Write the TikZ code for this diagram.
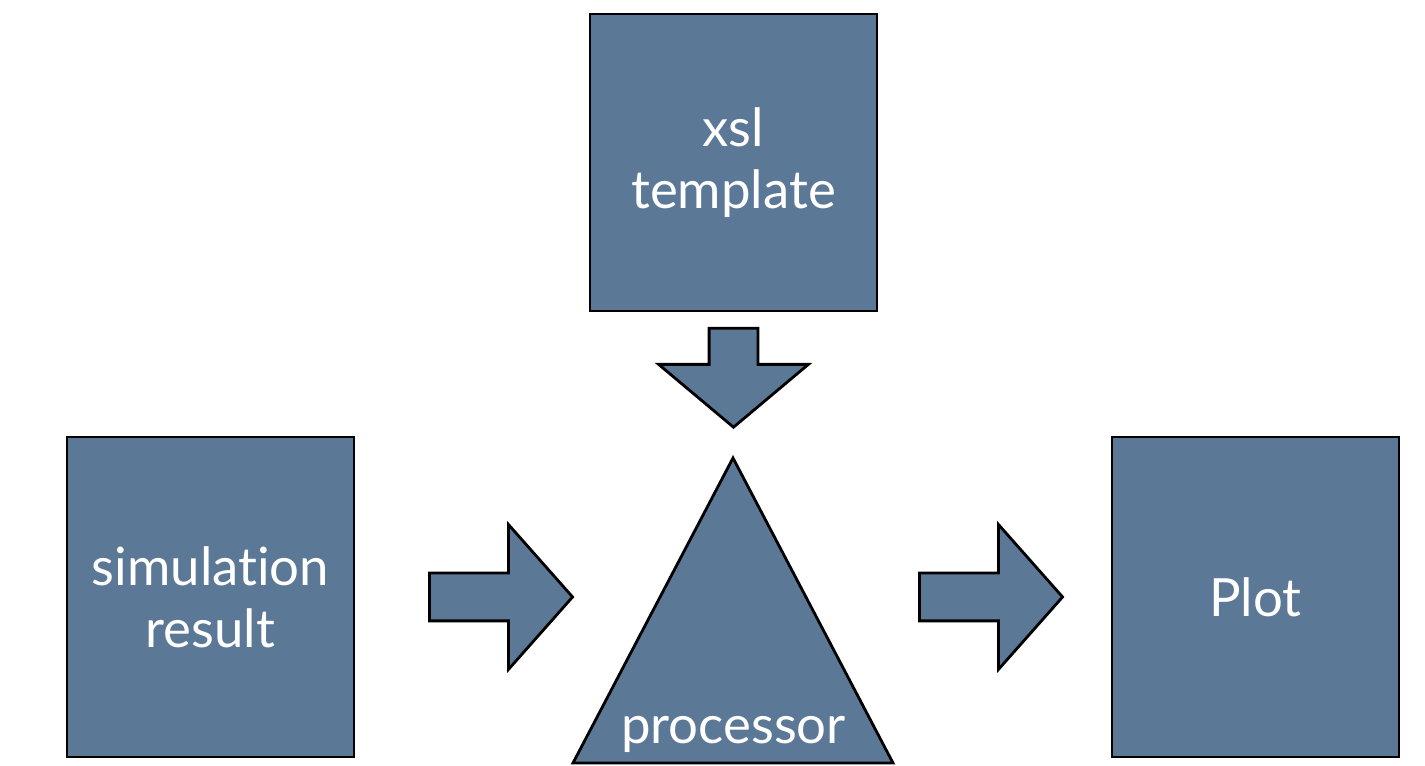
\documentclass[tikz,border=0pt]{standalone}
\usepackage{fontspec}
\setmainfont{Lato}[Ligatures={NoCommon,NoDiscretionary}]
\usetikzlibrary{shapes.arrows}

\definecolor{slate}{RGB}{92,120,151}
\tikzset{
  block/.style={draw=black, line width=0.028cm, fill=slate, text=white,
    minimum width=2.87cm, inner sep=0, align=center,
    font=\fontsize{15}{17.6}\selectfont},
  blockarrow/.style={single arrow, draw=black, line width=0.028cm, fill=slate,
    inner sep=0, text height=0.225cm, text depth=0.225cm,
    single arrow head extend=0.485cm, minimum height=1.43cm,
    single arrow tip angle=97},
}

\begin{document}
\begin{tikzpicture}
\useasboundingbox (0,0) rectangle (14.25,7.66);

% Blocks: input, template, output
\node [block, minimum height=2.97cm] (xsl) at (7.335,6.035) {xsl\\template};
\node [block, minimum height=3.20cm] (sim) at (2.105,1.690) {simulation\\result};
\node [block, minimum height=3.20cm] (plot) at (12.555,1.690) {Plot};

% Processor triangle
\coordinate (apex) at (7.330,3.080);
\coordinate (baseL) at (5.730,0.030);
\coordinate (baseR) at (8.930,0.030);
\draw [line width=0.028cm, fill=slate, line join=miter] (baseL) -- (apex) -- (baseR) -- cycle;
\node [text=white, font=\fontsize{15}{17.6}\selectfont] (proc) at (7.335,0.320) {processor};

% Block arrows
\node [blockarrow] (arrin) at (4.905,1.690) {};
\node [blockarrow] (arrout) at (9.805,1.690) {};
\node [blockarrow, rotate=-90, minimum height=0.99cm, single arrow head extend=0.505cm,
  text height=0.23cm, text depth=0.23cm, single arrow tip angle=100] (arrxsl) at (7.335,3.985) {};
\end{tikzpicture}
\end{document}
